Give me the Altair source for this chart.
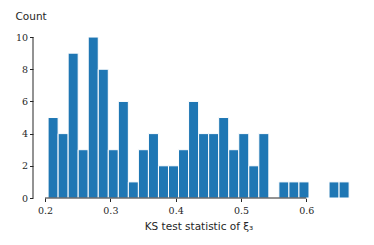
import altair as alt
import pandas as pd

# histogram bins (30 bins) and counts
bin_start = 0.2046
bin_width = 0.01537
counts = [5, 4, 9, 3, 10, 8, 3, 6, 1, 3, 4, 2, 2, 3, 6, 4, 4, 5, 3, 4, 2, 4, 0, 1, 1, 1, 0, 0, 1, 1]
x_ticks = [0.2, 0.3, 0.4, 0.5, 0.6]
y_ticks = [0, 2, 4, 6, 8, 10]
x_domain = [0.1815, 0.6885]
y_domain = [0, 10.5]

df = pd.DataFrame({
    "x0": [bin_start + i * bin_width for i in range(len(counts))],
    "x1": [bin_start + (i + 1) * bin_width for i in range(len(counts))],
    "count": counts,
    "base": [0] * len(counts),
})
df = df[df["count"] > 0]

AX = "#262626"
LABEL_FONT = "DejaVu Serif"
TITLE_FONT = "DejaVu Sans"

xscale = alt.Scale(domain=x_domain, nice=False, zero=False)
yscale = alt.Scale(domain=y_domain, nice=False)

xaxis = alt.Axis(values=x_ticks, format=".1f", domain=False, grid=False,
                 tickSize=3.5, tickColor=AX, tickWidth=1, labelOverlap=False,
                 labelFont=LABEL_FONT, labelFontSize=9.5, labelColor=AX, labelPadding=4,
                 title="KS test statistic of ξ₃", titleFont=TITLE_FONT, titleFontSize=10.5,
                 titleFontWeight="normal", titleColor=AX, titlePadding=6)
yaxis = alt.Axis(values=y_ticks, format="d", domain=False, grid=False,
                 tickSize=3.5, tickColor=AX, tickWidth=1, labelOverlap=False,
                 labelFont=LABEL_FONT, labelFontSize=9.5, labelColor=AX, labelPadding=2,
                 title="Count", titleFont=TITLE_FONT, titleFontSize=10.5,
                 titleFontWeight="normal", titleColor=AX, titleAngle=0,
                 titleAlign="left", titleBaseline="alphabetic", titleX=-18, titleY=-10)

bars = alt.Chart(df).mark_bar(color="#1f77b4", stroke="white", strokeWidth=1).encode(
    x=alt.X("x0:Q", scale=xscale, axis=xaxis),
    x2="x1:Q",
    y=alt.Y("count:Q", scale=yscale, axis=yaxis),
    y2="base:Q",
)

xline = alt.Chart(pd.DataFrame({"a": [min(x_ticks)], "b": [max(x_ticks)], "y": [min(y_ticks)]})).mark_rule(
    color=AX, strokeWidth=1).encode(
    x=alt.X("a:Q", scale=xscale, axis=xaxis), x2="b:Q", y=alt.Y("y:Q", scale=yscale, axis=yaxis))

yline = alt.Chart(pd.DataFrame({"x": [x_domain[0]], "a": [min(y_ticks)], "b": [max(y_ticks)]})).mark_rule(
    color=AX, strokeWidth=1).encode(
    x=alt.X("x:Q", scale=xscale, axis=xaxis), y=alt.Y("a:Q", scale=yscale, axis=yaxis), y2="b:Q")

chart = alt.layer(bars, xline, yline).properties(
    width=331, height=169,
    autosize=alt.AutoSizeParams(type="none"),
    padding={"left": 25, "top": 21, "right": 2, "bottom": 39},
).configure_view(stroke=None)

chart.save("out.html", embed_options={"renderer": "svg", "actions": False})
